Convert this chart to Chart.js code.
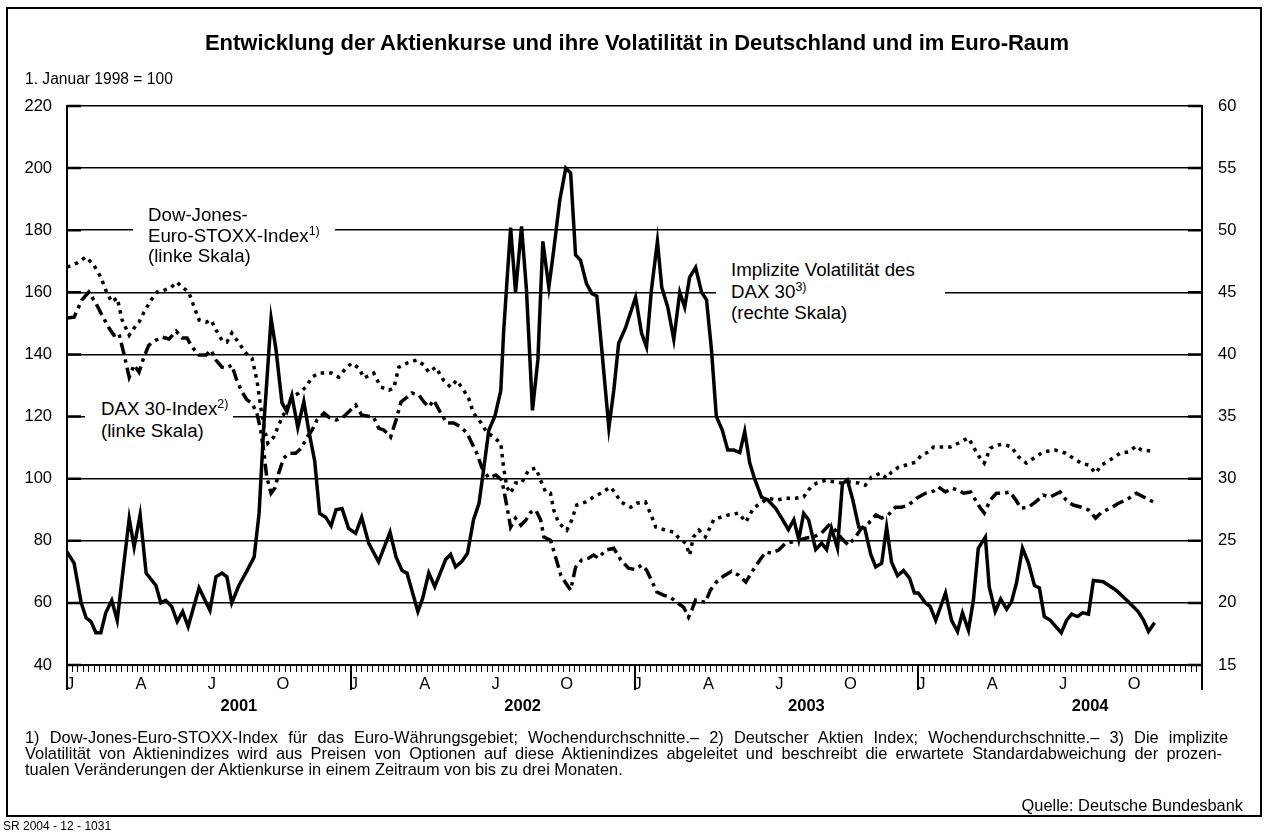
<!DOCTYPE html>
<html lang="de">
<head>
<meta charset="utf-8">
<title>Entwicklung der Aktienkurse</title>
<script src="https://cdn.jsdelivr.net/npm/chart.js@4.4.0/dist/chart.umd.min.js"></script>
<style>
  body { margin: 0; background: #fff; font-family: "Liberation Sans", Arial, sans-serif; color: #000; }
  #wrap { position: relative; width: 1266px; height: 839px; overflow: hidden; }
  #frame { position: absolute; left: 6px; top: 7px; width: 1252px; height: 806px; border: 2px solid #000; }
  canvas { position: absolute; left: 0; top: 0; }
  .t { position: absolute; white-space: nowrap; }
  .lab { position: absolute; background: #fff; font-size: 18.7px; white-space: nowrap; }
  .sup { font-size: 12.5px; position: relative; top: -7px; line-height: 0; }
  .fn { position: absolute; left: 25px; width: 1203px; font-size: 16.4px; line-height: 16px; white-space: nowrap; }
  .just { text-align: justify; text-align-last: justify; }
</style>
</head>
<body>
<div id="wrap">
  <div id="frame"></div>
  <canvas id="chart" width="1266" height="839"></canvas>

  <div class="t" style="left:0;width:1274px;text-align:center;top:30px;font-size:22px;line-height:26px;font-weight:bold;">Entwicklung der Aktienkurse und ihre Volatilität in Deutschland und im Euro-Raum</div>
  <div class="t" style="left:25px;top:70px;font-size:15.6px;line-height:18px;">1. Januar 1998 = 100</div>

  <div class="lab" style="left:133px;top:205px;width:187px;padding-left:15px;line-height:20.5px;">Dow-Jones-<br>Euro-STOXX-Index<span class="sup">1)</span><br>(linke Skala)</div>
  <div class="lab" style="left:85px;top:398px;width:132px;padding-left:16px;line-height:22px;">DAX 30-Index<span class="sup">2)</span><br>(linke Skala)</div>
  <div class="lab" style="left:716px;top:259px;width:214px;padding-left:15px;line-height:21.5px;">Implizite Volatilität des<br>DAX 30<span class="sup">3)</span><br>(rechte Skala)</div>

  <div class="fn just" style="top:729px;">1) Dow-Jones-Euro-STOXX-Index für das Euro-Währungsgebiet; Wochendurchschnitte.– 2) Deutscher Aktien Index; Wochendurchschnitte.– 3) Die implizite</div>
  <div class="fn just" style="top:745px;width:1197px;">Volatilität von Aktienindizes wird aus Preisen von Optionen auf diese Aktienindizes abgeleitet und beschreibt die erwartete Standardabweichung der prozen-</div>
  <div class="fn" style="top:761px;">tualen Veränderungen der Aktienkurse in einem Zeitraum von bis zu drei Monaten.</div>
  <div class="t" style="right:23px;top:797px;font-size:16.4px;line-height:16px;">Quelle: Deutsche Bundesbank</div>
  <div class="t" style="left:3px;top:819px;font-size:12px;line-height:14px;">SR 2004 - 12 - 1031</div>
</div>

<script>
// x values are weeks counted from the start of 2001 (52 weeks per year)
const volWeeks = [0,1.3,2.6,3.5,4.4,5.3,6.2,7.1,8.2,9.2,
  11.4,12.3,13.4,14.5,16.3,17.2,18.1,19.2,20.2,21.2,
  22.2,24.2,26.2,27.3,28.4,29.3,30.2,31.5,33.0,34.3,
  35.2,36.1,37.4,38.3,39.4,40.3,41.2,42.3,43.4,44.3,
  45.4,46.3,47.4,48.4,49.3,50.4,51.6,52.9,54.0,55.3,
  57.1,59.2,60.3,61.4,62.3,64.3,65.2,66.3,67.4,69.4,
  70.3,71.2,72.3,73.4,74.5,75.5,76.4,77.3,78.4,79.5,
  80.0,80.6,81.3,82.2,83.3,84.2,85.3,86.3,87.2,88.3,
  89.2,90.3,91.4,92.3,93.2,94.1,95.2,96.2,97.1,98.0,
  99.3,100.2,101.1,102.4,104.2,105.3,106.2,107.1,108.2,109.0,
  110.1,111.2,112.3,113.2,114.1,115.2,116.3,117.2,118.1,119.0,
  120.1,121.1,122.2,123.3,124.2,125.1,126.0,127.3,128.4,129.9,
  131.0,132.2,133.2,134.1,135.0,135.9,137.2,138.3,139.2,140.1,
  141.2,142.1,143.0,144.0,145.1,146.2,147.3,148.2,149.3,150.2,
  151.1,152.2,153.3,154.4,155.3,156.0,157.3,158.2,159.2,161.0,
  162.1,163.2,164.1,165.2,166.1,167.0,168.3,169.0,170.1,171.1,
  172.2,173.1,174.0,175.1,176.2,177.3,178.2,179.1,180.2,182.2,
  183.2,184.1,185.2,186.1,187.2,188.1,189.9,192.3,194.5,196.3,
  197.3,198.2,199.3];
const volValues = [24.1,23.2,20.0,18.8,18.5,17.6,17.6,19.2,20.2,18.6,
  26.8,24.5,27.1,22.4,21.4,20.0,20.2,19.7,18.5,19.3,
  18.1,21.2,19.4,22.1,22.4,22.1,20.0,21.4,22.6,23.7,
  27.2,34.5,42.9,40.4,36.1,35.4,36.7,34.1,36.2,33.9,
  31.4,27.2,26.9,26.2,27.5,27.6,26.0,25.6,26.9,24.8,
  23.3,25.7,23.7,22.6,22.4,19.3,20.4,22.4,21.3,23.5,
  23.9,22.9,23.3,24.0,26.7,28.0,30.9,33.9,35.0,37.1,
  41.7,45.7,50.2,45.0,50.3,45.2,35.5,39.6,49.1,45.4,
  48.4,52.4,55.0,54.6,48.0,47.6,45.7,44.9,44.7,40.4,
  34.1,37.1,40.9,42.2,44.6,41.7,40.6,45.2,49.1,45.4,
  43.8,41.2,45.0,43.8,46.2,47.0,45.0,44.4,40.4,35.0,
  33.9,32.3,32.3,32.1,33.8,31.3,30.0,28.5,28.3,27.6,
  26.8,25.9,26.7,25.1,27.2,26.7,24.3,24.8,24.3,26.0,
  24.4,29.6,29.9,28.3,26.1,26.0,23.9,22.9,23.2,26.1,
  23.3,22.2,22.6,22.0,20.8,20.8,20.0,19.7,18.6,20.8,
  18.6,17.7,19.2,17.8,20.2,24.4,25.3,21.3,19.3,20.3,
  19.5,20.1,21.6,24.4,23.2,21.4,21.2,18.9,18.6,17.6,
  18.6,19.1,18.9,19.2,19.1,21.8,21.7,21.0,20.1,19.3,
  18.6,17.7,18.4];

const stoxxWeeks = [0,1.8,3.5,4.9,6.2,7.1,8.2,9.2,10.1,11.4,
  12.3,13.2,14.1,15.4,16.5,17.8,19.0,20.1,21.1,22.3,
  23.3,24.2,25.5,26.4,27.3,28.4,29.3,30.2,31.5,32.8,
  33.9,34.8,35.5,36.1,36.8,37.9,38.8,40.1,41.2,42.5,
  43.8,44.9,46.2,47.4,48.5,49.8,51.1,52.2,53.5,54.4,
  56.2,57.5,59.0,59.9,60.8,62.3,64.1,65.4,66.3,67.6,
  69.0,70.3,71.4,72.7,73.6,74.5,75.8,76.9,78.2,79.5,
  80.0,80.6,81.3,82.2,83.3,84.6,85.9,86.8,87.7,88.6,
  89.2,90.1,91.6,92.5,93.4,95.1,96.5,97.8,99.6,100.5,
  101.5,103.3,104.4,106.0,106.9,107.9,109.7,111.2,112.1,113.4,
  114.1,114.8,115.8,117.0,118.5,119.8,121.2,123.1,124.4,125.8,
  127.1,128.6,130.0,131.7,133.5,135.0,136.3,137.4,139.0,140.8,
  141.9,143.6,145.1,146.3,147.4,149.1,150.2,151.1,152.4,153.8,
  155.5,156.6,157.9,158.8,160.3,161.9,163.4,165.2,166.1,167.2,
  168.1,169.2,170.3,171.6,173.1,174.4,175.8,177.5,178.9,181.1,
  183.0,184.4,185.9,187.2,188.5,189.6,191.4,193.0,194.5,196.0,
  196.9,198.7];
const stoxxValues = [168.1,169.4,171.4,168.8,164.9,160.7,156.9,158.2,151.1,146.2,
  148.5,150.4,153.6,157.5,160.1,160.7,161.4,163.3,161.7,160.1,
  155.3,151.1,150.4,151.1,147.9,144.6,144.0,146.9,143.7,140.4,
  138.8,131.8,123.1,116.6,111.4,113.4,117.3,122.1,126.3,127.6,
  129.5,132.7,134.0,134.0,134.0,132.7,135.6,137.2,135.6,132.4,
  134.0,129.5,128.5,129.2,135.9,137.2,138.2,136.6,134.3,135.9,
  131.7,129.5,131.7,128.5,125.9,121.1,118.2,115.0,113.4,111.4,
  103.7,97.3,95.3,98.6,98.6,102.8,103.4,99.5,95.7,95.3,
  89.9,85.7,83.4,86.7,91.5,92.5,94.1,95.3,97.3,95.3,
  92.5,90.8,92.1,92.5,88.9,84.4,83.4,82.8,80.9,79.2,
  75.4,81.2,83.4,81.2,86.7,87.6,88.3,88.9,86.0,90.5,
  92.1,93.7,93.1,93.7,93.7,94.1,97.3,98.6,99.5,98.9,
  98.6,98.9,98.6,97.9,100.5,101.8,100.2,102.1,103.7,104.4,
  105.3,107.6,108.6,110.2,110.2,110.2,111.5,113.1,110.2,107.0,
  105.0,109.8,110.8,111.1,110.2,107.0,105.0,107.0,108.6,109.2,
  108.2,106.6,105.0,104.4,101.8,104.4,106.3,108.2,108.6,110.5,
  109.2,108.9];

const daxWeeks = [0,1.3,2.7,4.0,5.3,6.4,7.7,8.6,9.5,10.4,
  11.4,12.3,13.2,14.1,15.0,16.3,17.4,18.7,20.0,21.1,
  22.0,22.9,24.2,25.5,26.4,27.3,28.4,29.3,30.2,31.1,
  32.1,33.0,33.9,34.8,35.5,36.1,36.6,37.4,38.1,38.8,
  39.7,40.7,41.9,43.0,44.0,44.9,45.8,47.1,48.0,49.3,
  50.4,51.6,52.9,54.0,56.2,57.1,58.1,59.3,60.3,61.2,
  62.1,63.2,64.5,65.4,66.3,67.2,68.5,69.6,70.9,72.2,
  73.3,74.2,75.1,76.0,77.3,78.6,79.7,80.4,81.3,
  82.2,83.2,84.1,85.0,85.9,86.8,87.4,88.6,89.6,90.5,
  91.4,92.3,93.2,94.3,95.6,96.5,97.4,98.7,100.2,101.5,
  102.9,104.2,105.3,106.2,107.1,108.1,109.3,110.6,111.7,113.0,
  113.9,114.5,115.2,117.0,117.9,119.0,120.3,121.8,123.1,124.4,
  125.5,126.7,128.0,129.1,130.4,131.7,132.8,134.1,135.5,136.8,
  138.3,139.6,140.8,141.9,143.2,144.5,145.6,146.9,148.2,149.3,
  150.5,151.8,152.9,154.2,155.7,157.3,158.8,159.7,161.0,162.1,
  163.4,164.3,165.6,166.5,167.4,168.1,169.2,170.3,171.6,172.8,
  173.9,174.8,176.2,177.5,178.9,180.2,182.0,183.1,184.4,185.9,
  187.2,188.5,189.6,191.2,192.7,194.1,196.0,197.3,199.1];
const daxValues = [151.7,152.0,157.5,160.1,156.5,152.7,148.5,146.2,146.9,140.4,
  132.7,136.6,134.3,139.2,143.0,144.6,145.6,145.0,147.5,145.3,
  145.3,142.4,139.8,139.8,141.4,138.2,135.9,135.6,136.6,131.7,
  127.9,125.3,124.3,121.1,115.6,108.2,100.5,95.3,97.0,101.8,
  106.6,108.2,108.2,109.9,113.4,115.6,118.9,121.1,119.8,118.9,
  119.5,121.5,123.7,120.5,119.8,116.3,115.6,113.4,118.9,124.7,
  125.9,127.6,126.9,124.7,123.1,125.3,121.1,117.9,117.9,116.6,
  114.7,111.4,108.2,103.7,100.2,101.2,99.5,93.1,84.4,
  87.3,85.0,86.7,89.2,89.9,86.7,81.2,80.2,74.4,68.9,
  66.4,64.1,71.5,73.8,74.4,75.4,74.4,77.0,77.6,73.8,
  71.2,70.7,72.2,70.6,67.3,63.5,62.5,61.8,60.2,58.6,
  55.4,57.7,60.9,60.2,64.1,66.7,68.6,70.2,68.9,66.7,
  69.9,73.1,76.4,76.0,77.0,79.2,79.6,80.2,80.9,81.2,
  82.5,85.0,83.4,80.9,78.6,81.2,84.1,85.7,88.3,87.3,
  88.3,90.8,90.8,91.5,93.7,95.3,96.0,97.3,95.7,96.9,
  96.3,95.3,95.7,93.1,90.5,88.9,93.1,95.3,95.3,95.7,
  93.1,90.5,90.8,92.5,94.7,94.1,95.7,93.1,91.5,90.8,
  89.9,87.3,89.2,90.5,92.1,93.1,95.3,94.1,92.5];

const monthLabels = ['J', 'A', 'J', 'O'];
const yearLabels = ['2001', '2002', '2003', '2004'];
const leftTicks = [40, 60, 80, 100, 120, 140, 160, 180, 200, 220];
const rightTicks = [15, 20, 25, 30, 35, 40, 45, 50, 55, 60];

function toPoints(weeks, values) {
    return weeks.map((w, i) => ({ x: w, y: values[i] }));
}

// long tick marks at the year boundaries, short heavy marks where gridlines meet the side axes
const axisMarks = {
    id: 'axisMarks',
    afterDraw(chart) {
        const ctx = chart.ctx;
        const xs = chart.scales.x;
        const ys = chart.scales.y;
        const area = chart.chartArea;
        ctx.save();
        ctx.strokeStyle = '#000';
        ctx.lineWidth = 2;
        for (let w = 0; w <= 208; w += 52) {
            const px = Math.round(xs.getPixelForValue(w));
            ctx.beginPath();
            ctx.moveTo(px, area.bottom);
            ctx.lineTo(px, area.bottom + 25);
            ctx.stroke();
        }
        ctx.lineWidth = 2.5;
        leftTicks.forEach(v => {
            const py = ys.getPixelForValue(v);
            ctx.beginPath();
            ctx.moveTo(area.left, py);
            ctx.lineTo(area.left + 14, py);
            ctx.moveTo(area.right - 14, py);
            ctx.lineTo(area.right, py);
            ctx.stroke();
        });
        ctx.restore();
    }
};

Chart.defaults.font.family = '"Liberation Sans", Arial, sans-serif';
Chart.defaults.color = '#000';

const ctx = document.getElementById('chart').getContext('2d');
new Chart(ctx, {
    type: 'line',
    data: {
        datasets: [
            {
                label: 'Implizite Volatilität des DAX 30',
                data: toPoints(volWeeks, volValues),
                yAxisID: 'y2',
                borderColor: '#000',
                borderWidth: 3.5,
                pointRadius: 0,
                tension: 0
            },
            {
                label: 'Dow-Jones-Euro-STOXX-Index',
                data: toPoints(stoxxWeeks, stoxxValues),
                yAxisID: 'y',
                borderColor: '#000',
                borderWidth: 3.5,
                borderDash: [3.5, 5],
                pointRadius: 0,
                tension: 0
            },
            {
                label: 'DAX 30-Index',
                data: toPoints(daxWeeks, daxValues),
                yAxisID: 'y',
                borderColor: '#000',
                borderWidth: 3.5,
                borderDash: [12, 5, 3.5, 5],
                pointRadius: 0,
                tension: 0
            }
        ]
    },
    options: {
        responsive: false,
        animation: false,
        devicePixelRatio: 1,
        layout: { padding: { top: 106, bottom: 120, left: 0, right: 0 } },
        plugins: { legend: { display: false }, tooltip: { enabled: false } },
        scales: {
            x: {
                type: 'linear',
                min: 0,
                max: 208,
                position: 'bottom',
                afterBuildTicks: s => {
                    s.ticks = [];
                    for (let i = 0; i <= 208; i++) s.ticks.push({ value: i });
                },
                afterFit: s => { s.height = 30; },
                grid: { drawOnChartArea: false, tickLength: 7, color: '#000', lineWidth: 1 },
                border: { display: true, color: '#000', width: 2 },
                ticks: {
                    autoSkip: false,
                    maxRotation: 0,
                    padding: 3,
                    labelOffset: 3,
                    font: { size: 16.5 },
                    callback: v => (v % 13 === 0 && v < 208) ? monthLabels[(v / 13) % 4] : ''
                }
            },
            xYear: {
                type: 'linear',
                min: 0,
                max: 208,
                position: 'bottom',
                afterBuildTicks: s => {
                    s.ticks = yearLabels.map((_, i) => ({ value: 31.5 + 52 * i }));
                },
                afterFit: s => { s.height = 24; },
                grid: { display: false, drawTicks: false },
                border: { display: false },
                ticks: {
                    autoSkip: false,
                    maxRotation: 0,
                    padding: 2,
                    font: { size: 16.5, weight: 'bold' },
                    callback: (v, i) => yearLabels[i]
                }
            },
            y: {
                position: 'left',
                min: 40,
                max: 220,
                afterBuildTicks: s => { s.ticks = leftTicks.map(v => ({ value: v })); },
                afterFit: s => { s.width = 67; },
                grid: { color: '#000', lineWidth: 1.5, drawTicks: false },
                border: { display: true, color: '#000', width: 2 },
                ticks: { padding: 15, font: { size: 16.5 } }
            },
            y2: {
                position: 'right',
                min: 15,
                max: 60,
                afterBuildTicks: s => { s.ticks = rightTicks.map(v => ({ value: v })); },
                afterFit: s => { s.width = 64; },
                grid: { drawOnChartArea: false, drawTicks: false },
                border: { display: true, color: '#000', width: 2 },
                ticks: { padding: 16, font: { size: 16.5 } }
            }
        }
    },
    plugins: [axisMarks]
});
</script>
</body>
</html>
